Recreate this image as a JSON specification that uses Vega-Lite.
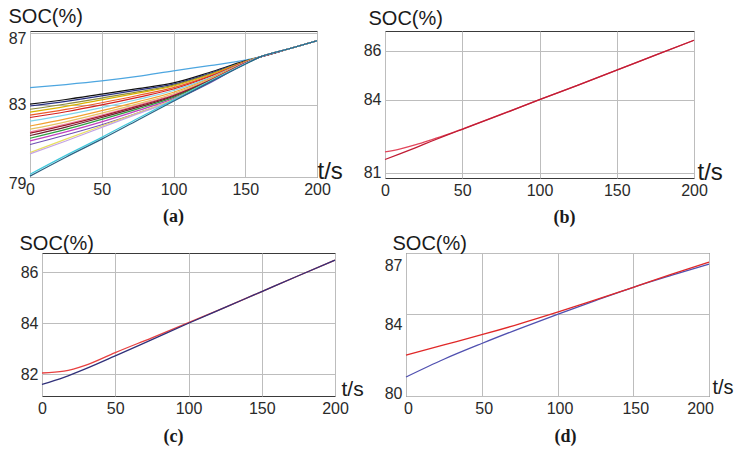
{
"$schema": "https://vega.github.io/schema/vega-lite/v6.json",
"background": "white",
"padding": {"left": 7, "top": 5, "right": 0, "bottom": 0},
"datasets": {
"pa": [
{"s":"s1","t":0,"v":83.96},{"s":"s1","t":25,"v":84.13},{"s":"s1","t":50,"v":84.33},{"s":"s1","t":75,"v":84.58},{"s":"s1","t":100,"v":84.89},{"s":"s1","t":125,"v":85.18},{"s":"s1","t":150,"v":85.48},{"s":"s1","t":160,"v":85.65},{"s":"s1","t":180,"v":86.1},{"s":"s1","t":200,"v":86.56},
{"s":"s2","t":0,"v":83.04},{"s":"s2","t":25,"v":83.3},{"s":"s2","t":50,"v":83.6},{"s":"s2","t":75,"v":83.9},{"s":"s2","t":100,"v":84.22},{"s":"s2","t":125,"v":84.8},{"s":"s2","t":150,"v":85.44},{"s":"s2","t":160,"v":85.65},{"s":"s2","t":180,"v":86.1},{"s":"s2","t":200,"v":86.56},
{"s":"s3","t":0,"v":82.94},{"s":"s3","t":25,"v":83.2},{"s":"s3","t":50,"v":83.5},{"s":"s3","t":75,"v":83.82},{"s":"s3","t":100,"v":84.15},{"s":"s3","t":125,"v":84.74},{"s":"s3","t":150,"v":85.42},{"s":"s3","t":160,"v":85.65},{"s":"s3","t":180,"v":86.1},{"s":"s3","t":200,"v":86.56},
{"s":"s4","t":0,"v":82.76},{"s":"s4","t":25,"v":83.05},{"s":"s4","t":50,"v":83.38},{"s":"s4","t":75,"v":83.72},{"s":"s4","t":100,"v":84.1},{"s":"s4","t":125,"v":84.7},{"s":"s4","t":150,"v":85.41},{"s":"s4","t":160,"v":85.65},{"s":"s4","t":180,"v":86.1},{"s":"s4","t":200,"v":86.56},
{"s":"s5","t":0,"v":82.6},{"s":"s5","t":25,"v":82.92},{"s":"s5","t":50,"v":83.28},{"s":"s5","t":75,"v":83.65},{"s":"s5","t":100,"v":84.05},{"s":"s5","t":125,"v":84.66},{"s":"s5","t":150,"v":85.4},{"s":"s5","t":160,"v":85.65},{"s":"s5","t":180,"v":86.1},{"s":"s5","t":200,"v":86.56},
{"s":"s6","t":0,"v":82.43},{"s":"s6","t":25,"v":82.75},{"s":"s6","t":50,"v":83.12},{"s":"s6","t":75,"v":83.52},{"s":"s6","t":100,"v":83.96},{"s":"s6","t":125,"v":84.6},{"s":"s6","t":150,"v":85.38},{"s":"s6","t":160,"v":85.65},{"s":"s6","t":180,"v":86.1},{"s":"s6","t":200,"v":86.56},
{"s":"s7","t":0,"v":82.3},{"s":"s7","t":25,"v":82.62},{"s":"s7","t":50,"v":83.0},{"s":"s7","t":75,"v":83.42},{"s":"s7","t":100,"v":83.88},{"s":"s7","t":125,"v":84.56},{"s":"s7","t":150,"v":85.37},{"s":"s7","t":160,"v":85.65},{"s":"s7","t":180,"v":86.1},{"s":"s7","t":200,"v":86.56},
{"s":"s8","t":0,"v":82.1},{"s":"s8","t":25,"v":82.45},{"s":"s8","t":50,"v":82.85},{"s":"s8","t":75,"v":83.3},{"s":"s8","t":100,"v":83.8},{"s":"s8","t":125,"v":84.5},{"s":"s8","t":150,"v":85.36},{"s":"s8","t":160,"v":85.65},{"s":"s8","t":180,"v":86.1},{"s":"s8","t":200,"v":86.56},
{"s":"s9","t":0,"v":81.83},{"s":"s9","t":25,"v":82.22},{"s":"s9","t":50,"v":82.68},{"s":"s9","t":75,"v":83.17},{"s":"s9","t":100,"v":83.7},{"s":"s9","t":125,"v":84.45},{"s":"s9","t":150,"v":85.35},{"s":"s9","t":160,"v":85.65},{"s":"s9","t":180,"v":86.1},{"s":"s9","t":200,"v":86.56},
{"s":"s10","t":0,"v":81.65},{"s":"s10","t":25,"v":82.06},{"s":"s10","t":50,"v":82.54},{"s":"s10","t":75,"v":83.06},{"s":"s10","t":100,"v":83.62},{"s":"s10","t":125,"v":84.4},{"s":"s10","t":150,"v":85.34},{"s":"s10","t":160,"v":85.65},{"s":"s10","t":180,"v":86.1},{"s":"s10","t":200,"v":86.56},
{"s":"s11","t":0,"v":81.5},{"s":"s11","t":25,"v":81.94},{"s":"s11","t":50,"v":82.44},{"s":"s11","t":75,"v":82.98},{"s":"s11","t":100,"v":83.56},{"s":"s11","t":125,"v":84.37},{"s":"s11","t":150,"v":85.33},{"s":"s11","t":160,"v":85.65},{"s":"s11","t":180,"v":86.1},{"s":"s11","t":200,"v":86.56},
{"s":"s12","t":0,"v":81.43},{"s":"s12","t":25,"v":81.88},{"s":"s12","t":50,"v":82.38},{"s":"s12","t":75,"v":82.93},{"s":"s12","t":100,"v":83.52},{"s":"s12","t":125,"v":84.35},{"s":"s12","t":150,"v":85.32},{"s":"s12","t":160,"v":85.65},{"s":"s12","t":180,"v":86.1},{"s":"s12","t":200,"v":86.56},
{"s":"s13","t":0,"v":81.3},{"s":"s13","t":25,"v":81.77},{"s":"s13","t":50,"v":82.3},{"s":"s13","t":75,"v":82.86},{"s":"s13","t":100,"v":83.47},{"s":"s13","t":125,"v":84.32},{"s":"s13","t":150,"v":85.31},{"s":"s13","t":160,"v":85.65},{"s":"s13","t":180,"v":86.1},{"s":"s13","t":200,"v":86.56},
{"s":"s14","t":0,"v":81.15},{"s":"s14","t":25,"v":81.64},{"s":"s14","t":50,"v":82.2},{"s":"s14","t":75,"v":82.78},{"s":"s14","t":100,"v":83.42},{"s":"s14","t":125,"v":84.3},{"s":"s14","t":150,"v":85.3},{"s":"s14","t":160,"v":85.65},{"s":"s14","t":180,"v":86.1},{"s":"s14","t":200,"v":86.56},
{"s":"s15","t":0,"v":81.0},{"s":"s15","t":25,"v":81.5},{"s":"s15","t":50,"v":82.06},{"s":"s15","t":75,"v":82.68},{"s":"s15","t":100,"v":83.35},{"s":"s15","t":125,"v":84.26},{"s":"s15","t":150,"v":85.3},{"s":"s15","t":160,"v":85.65},{"s":"s15","t":180,"v":86.1},{"s":"s15","t":200,"v":86.56},
{"s":"s16","t":0,"v":80.8},{"s":"s16","t":25,"v":81.33},{"s":"s16","t":50,"v":81.9},{"s":"s16","t":75,"v":82.55},{"s":"s16","t":100,"v":83.26},{"s":"s16","t":125,"v":84.2},{"s":"s16","t":150,"v":85.29},{"s":"s16","t":160,"v":85.65},{"s":"s16","t":180,"v":86.1},{"s":"s16","t":200,"v":86.56},
{"s":"s17","t":0,"v":80.35},{"s":"s17","t":25,"v":81.1},{"s":"s17","t":50,"v":81.83},{"s":"s17","t":75,"v":82.55},{"s":"s17","t":100,"v":83.3},{"s":"s17","t":125,"v":84.3},{"s":"s17","t":150,"v":85.28},{"s":"s17","t":160,"v":85.65},{"s":"s17","t":180,"v":86.1},{"s":"s17","t":200,"v":86.56},
{"s":"s18","t":0,"v":80.28},{"s":"s18","t":25,"v":81.0},{"s":"s18","t":50,"v":81.75},{"s":"s18","t":75,"v":82.5},{"s":"s18","t":100,"v":83.25},{"s":"s18","t":125,"v":84.28},{"s":"s18","t":150,"v":85.28},{"s":"s18","t":160,"v":85.65},{"s":"s18","t":180,"v":86.1},{"s":"s18","t":200,"v":86.56},
{"s":"s19","t":0,"v":79.15},{"s":"s19","t":25,"v":80.2},{"s":"s19","t":50,"v":81.2},{"s":"s19","t":75,"v":82.25},{"s":"s19","t":100,"v":83.28},{"s":"s19","t":125,"v":84.3},{"s":"s19","t":150,"v":85.27},{"s":"s19","t":160,"v":85.65},{"s":"s19","t":180,"v":86.1},{"s":"s19","t":200,"v":86.56},
{"s":"s20","t":0,"v":79.05},{"s":"s20","t":25,"v":80.1},{"s":"s20","t":50,"v":81.1},{"s":"s20","t":75,"v":82.15},{"s":"s20","t":100,"v":83.2},{"s":"s20","t":125,"v":84.25},{"s":"s20","t":150,"v":85.26},{"s":"s20","t":160,"v":85.65},{"s":"s20","t":180,"v":86.1},{"s":"s20","t":200,"v":86.56}
],
"pb": [
{"s":"b1","t":0,"v":81.85},{"s":"b1","t":10,"v":81.98},{"s":"b1","t":20,"v":82.15},{"s":"b1","t":30,"v":82.35},{"s":"b1","t":40,"v":82.56},{"s":"b1","t":50,"v":82.79},{"s":"b1","t":75,"v":83.39},{"s":"b1","t":100,"v":84.0},{"s":"b1","t":125,"v":84.6},{"s":"b1","t":150,"v":85.21},{"s":"b1","t":175,"v":85.83},{"s":"b1","t":200,"v":86.44},
{"s":"b2","t":0,"v":81.54},{"s":"b2","t":10,"v":81.78},{"s":"b2","t":20,"v":82.03},{"s":"b2","t":30,"v":82.29},{"s":"b2","t":40,"v":82.54},{"s":"b2","t":50,"v":82.78},{"s":"b2","t":75,"v":83.38},{"s":"b2","t":100,"v":84.0},{"s":"b2","t":125,"v":84.6},{"s":"b2","t":150,"v":85.21},{"s":"b2","t":175,"v":85.83},{"s":"b2","t":200,"v":86.44}
],
"pc": [
{"s":"c1","t":0,"v":82.05},{"s":"c1","t":15,"v":82.12},{"s":"c1","t":30,"v":82.36},{"s":"c1","t":50,"v":82.85},{"s":"c1","t":75,"v":83.43},{"s":"c1","t":100,"v":84.02},{"s":"c1","t":125,"v":84.62},{"s":"c1","t":150,"v":85.24},{"s":"c1","t":175,"v":85.86},{"s":"c1","t":200,"v":86.47},
{"s":"c2","t":0,"v":81.6},{"s":"c2","t":15,"v":81.88},{"s":"c2","t":30,"v":82.22},{"s":"c2","t":50,"v":82.72},{"s":"c2","t":75,"v":83.36},{"s":"c2","t":100,"v":84.0},{"s":"c2","t":125,"v":84.62},{"s":"c2","t":150,"v":85.24},{"s":"c2","t":175,"v":85.86},{"s":"c2","t":200,"v":86.47}
],
"pd": [
{"s":"d1","t":0,"v":80.93},{"s":"d1","t":25,"v":81.8},{"s":"d1","t":50,"v":82.57},{"s":"d1","t":75,"v":83.3},{"s":"d1","t":100,"v":84.0},{"s":"d1","t":125,"v":84.67},{"s":"d1","t":150,"v":85.32},{"s":"d1","t":175,"v":85.9},{"s":"d1","t":200,"v":86.45},
{"s":"d2","t":0,"v":82.0},{"s":"d2","t":25,"v":82.5},{"s":"d2","t":50,"v":83.0},{"s":"d2","t":75,"v":83.53},{"s":"d2","t":100,"v":84.1},{"s":"d2","t":125,"v":84.7},{"s":"d2","t":150,"v":85.32},{"s":"d2","t":175,"v":85.95},{"s":"d2","t":200,"v":86.55}
]
},
"spacing": 4,
"vconcat": [
{
"bounds": "flush",
"spacing": 68,
"hconcat": [
{
"width": 287, "height": 146,
"data": {"name": "pa"},
"title": {"text": "(a)", "orient": "bottom", "offset": 11, "dx": 0},
"mark": {"type": "line", "strokeWidth": 1.2, "interpolate": "monotone"},
"encoding": {
"x": {"field": "t", "type": "quantitative", "scale": {"domain": [0, 200], "nice": false},
"axis": {"values": [0, 50, 100, 150, 200], "title": "t/s", "titleX": 287, "titleY": 1, "titleFontSize": 24}},
"y": {"field": "v", "type": "quantitative", "scale": {"domain": [79, 87.1], "nice": false, "zero": false},
"axis": {"values": [79, 83, 87], "title": "SOC(%)", "titleX": -22, "titleY": -9, "titleFontSize": 20,
"labelOffset": {"condition": {"test": "datum.value == 83", "value": 0}, "value": 6}}},
"color": {"field": "s", "type": "nominal", "legend": null,
"scale": {"domain": ["s1","s2","s3","s4","s5","s6","s7","s8","s9","s10","s11","s12","s13","s14","s15","s16","s17","s18","s19","s20","b1","b2","c1","c2","d1","d2"],
"range": ["#4da6e0","#111111","#283080","#8c8c3c","#d8b400","#ec5a2a","#d42020","#80d4ea","#f2a030","#e4c264","#f284a4","#a0182a","#6e1e30","#2ea040","#c040c0","#7050b4","#e8e060","#c4a4e4","#40c8dc","#2a6484","#e2475c","#c01c34","#e84040","#30307a","#5050b0","#e02828"]}}
}
},
{
"width": 309, "height": 147,
"data": {"name": "pb"},
"title": {"text": "(b)", "orient": "bottom", "offset": 11, "dx": 25},
"mark": {"type": "line", "strokeWidth": 1.3, "interpolate": "monotone"},
"encoding": {
"x": {"field": "t", "type": "quantitative", "scale": {"domain": [0, 200], "nice": false},
"axis": {"values": [0, 50, 100, 150, 200], "title": "t/s", "titleX": 312, "titleY": 1, "titleFontSize": 24}},
"y": {"field": "v", "type": "quantitative", "scale": {"domain": [80.78, 86.82], "nice": false, "zero": false},
"axis": {"values": [81, 84, 86], "title": "SOC(%)", "titleX": -17, "titleY": -7, "titleFontSize": 20}},
"color": {"field": "s", "type": "nominal", "legend": null,
"scale": {"domain": ["s1","s2","s3","s4","s5","s6","s7","s8","s9","s10","s11","s12","s13","s14","s15","s16","s17","s18","s19","s20","b1","b2","c1","c2","d1","d2"],
"range": ["#4da6e0","#111111","#283080","#8c8c3c","#d8b400","#ec5a2a","#d42020","#80d4ea","#f2a030","#e4c264","#f284a4","#a0182a","#6e1e30","#2ea040","#c040c0","#7050b4","#e8e060","#c4a4e4","#40c8dc","#2a6484","#e2475c","#c01c34","#e84040","#30307a","#5050b0","#e02828"]}}
}
}
]
},
{
"spacing": 19,
"hconcat": [
{
"bounds": "flush",
"spacing": 10,
"hconcat": [
{"width": 2, "height": 1, "data": {"values": []}, "mark": "point", "view": {"stroke": null}},
{
"width": 293, "height": 143,
"data": {"name": "pc"},
"title": {"text": "(c)", "orient": "bottom", "offset": 12, "dx": -15},
"mark": {"type": "line", "strokeWidth": 1.3, "interpolate": "monotone"},
"encoding": {
"x": {"field": "t", "type": "quantitative", "scale": {"domain": [0, 200], "nice": false},
"axis": {"values": [0, 50, 100, 150, 200], "title": "t/s", "titleX": 299, "titleY": -1, "titleFontSize": 21}},
"y": {"field": "v", "type": "quantitative", "scale": {"domain": [81.15, 86.75], "nice": false, "zero": false},
"axis": {"values": [82, 84, 86], "title": "SOC(%)", "titleX": -23, "titleY": -4, "titleFontSize": 20}},
"color": {"field": "s", "type": "nominal", "legend": null,
"scale": {"domain": ["s1","s2","s3","s4","s5","s6","s7","s8","s9","s10","s11","s12","s13","s14","s15","s16","s17","s18","s19","s20","b1","b2","c1","c2","d1","d2"],
"range": ["#4da6e0","#111111","#283080","#8c8c3c","#d8b400","#ec5a2a","#d42020","#80d4ea","#f2a030","#e4c264","#f284a4","#a0182a","#6e1e30","#2ea040","#c040c0","#7050b4","#e8e060","#c4a4e4","#40c8dc","#2a6484","#e2475c","#c01c34","#e84040","#30307a","#5050b0","#e02828"]}}
}
}
]
},
{
"width": 303, "height": 143,
"data": {"name": "pd"},
"title": {"text": "(d)", "orient": "bottom", "offset": 12, "dx": 8},
"mark": {"type": "line", "strokeWidth": 1.3, "interpolate": "monotone"},
"encoding": {
"x": {"field": "t", "type": "quantitative", "scale": {"domain": [0, 200], "nice": false},
"axis": {"values": [0, 50, 100, 150, 200], "title": "t/s", "titleX": 306, "titleY": -3, "titleFontSize": 20,
"labelOffset": {"condition": {"test": "datum.value == 200", "value": -9}, "value": 2}}},
"y": {"field": "v", "type": "quantitative", "scale": {"domain": [80, 87], "nice": false, "zero": false},
"axis": {"values": [80, 84, 87], "title": "SOC(%)", "titleX": -14, "titleY": -4, "titleFontSize": 20,
"labelOffset": {"condition": [{"test": "datum.value == 87", "value": 12}, {"test": "datum.value == 84", "value": 10}], "value": -3}}},
"color": {"field": "s", "type": "nominal", "legend": null,
"scale": {"domain": ["s1","s2","s3","s4","s5","s6","s7","s8","s9","s10","s11","s12","s13","s14","s15","s16","s17","s18","s19","s20","b1","b2","c1","c2","d1","d2"],
"range": ["#4da6e0","#111111","#283080","#8c8c3c","#d8b400","#ec5a2a","#d42020","#80d4ea","#f2a030","#e4c264","#f284a4","#a0182a","#6e1e30","#2ea040","#c040c0","#7050b4","#e8e060","#c4a4e4","#40c8dc","#2a6484","#e2475c","#c01c34","#e84040","#30307a","#5050b0","#e02828"]}}
}
}
]
}
],
"config": {
"view": {"stroke": "#3a3a3a", "strokeWidth": 1},
"axis": {"labelFont": "Liberation Sans", "labelFontSize": 16, "labelColor": "#2a2a2a", "labelPadding": 4, "labelFlush": false,
"titleFont": "Liberation Sans", "titleFontWeight": "normal", "titleColor": "#1a1a1a", "titleAngle": 0, "titleAlign": "left", "titleBaseline": "alphabetic",
"gridColor": "#bdbdbd", "gridWidth": 1, "gridOpacity": 1, "ticks": false, "domain": false},
"title": {"font": "Liberation Serif", "fontSize": 18, "fontWeight": "bold", "color": "#1a1a1a", "baseline": "top"}
}
}
